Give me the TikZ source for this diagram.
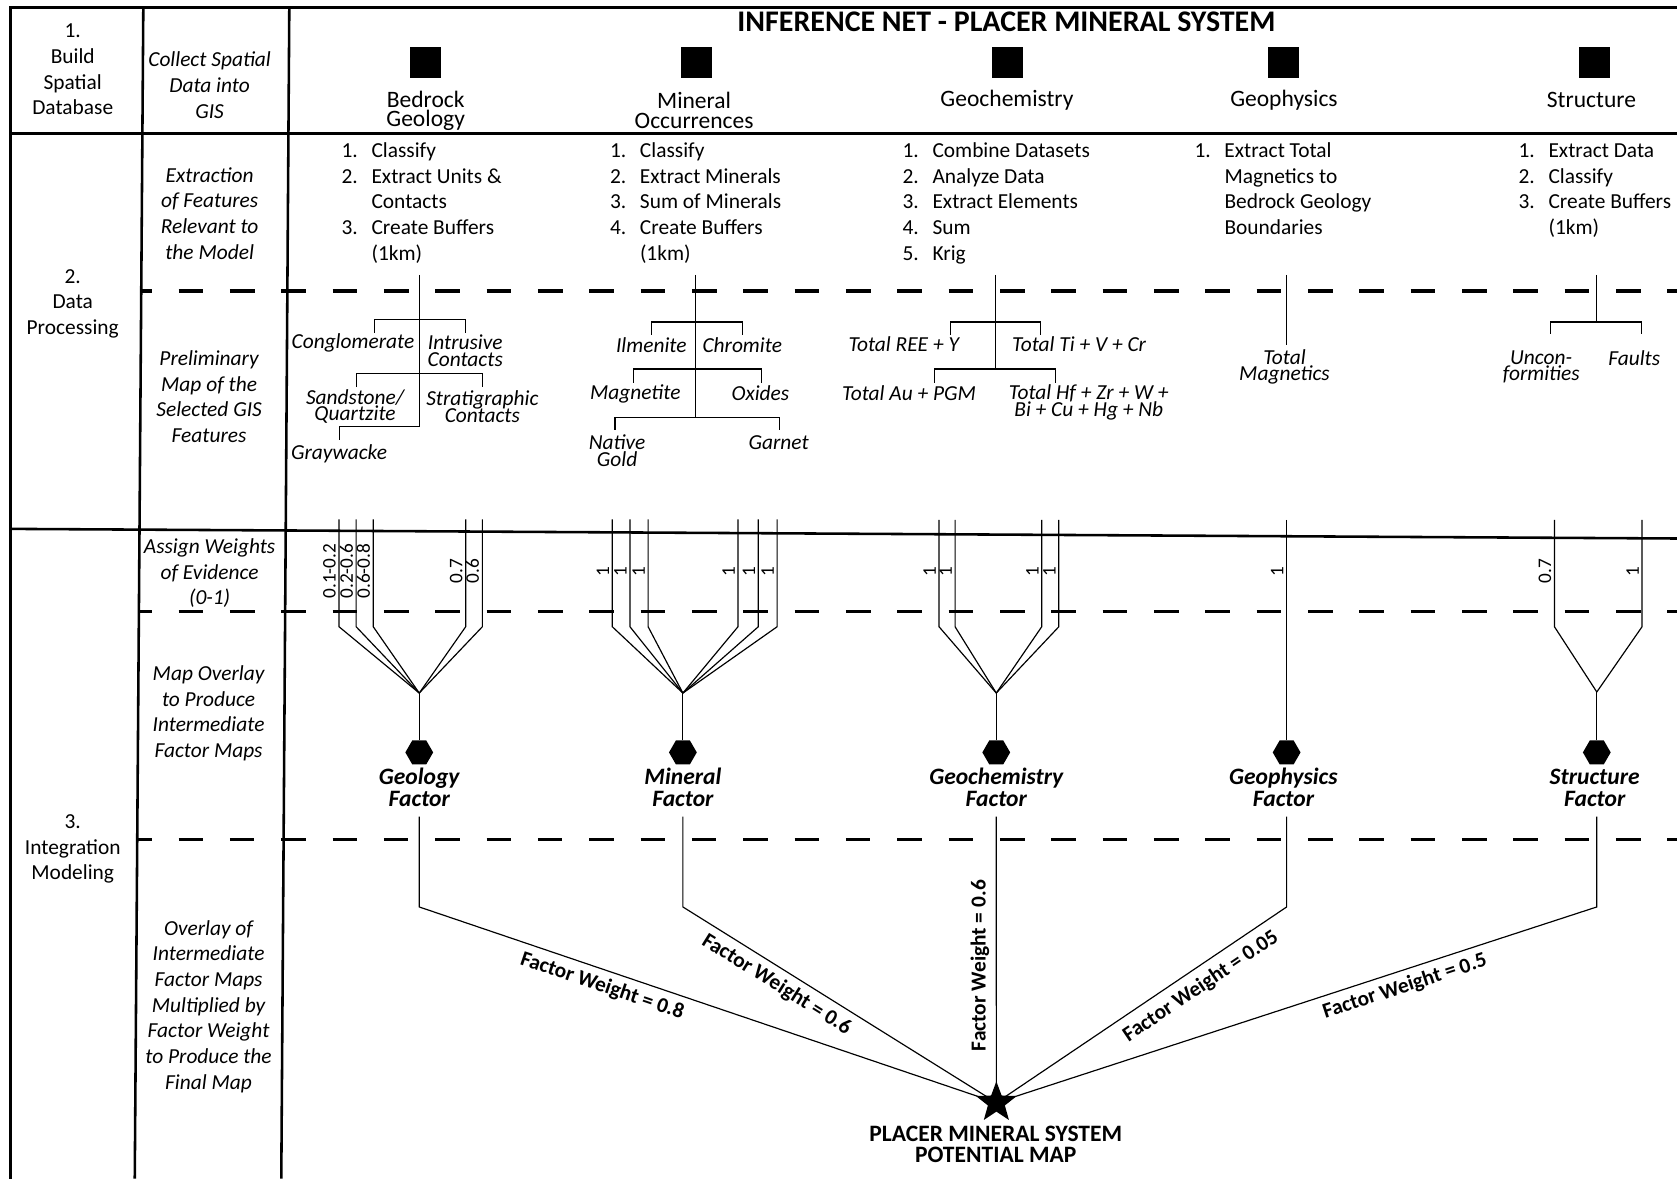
\documentclass[tikz,border=0pt]{standalone}
\usepackage{fontspec}
\setmainfont{Carlito}
\usetikzlibrary{shapes.geometric,backgrounds}

\newcommand\tightlines{\lineskiplimit=-20pt\relax}
\newcommand\steplist[1]{\begin{tabular}{@{}p{14pt}@{}l@{}}#1\end{tabular}}

\tikzset{
  frame/.style={line width=1.2pt},
  sepline/.style={line width=1.5pt, dash pattern=on 11.5pt off 12.5pt},
  thin/.style={line width=0.55pt},
  plain/.style={inner sep=0pt, align=center, font=\fontsize{10}{12}\selectfont\tightlines},
  note/.style={inner sep=0pt, align=center, font=\itshape\fontsize{10}{12}\selectfont\tightlines},
  headline/.style={inner sep=0pt, font=\bfseries\fontsize{14}{16}\selectfont},
  srcbox/.style={fill=black, minimum size=14.5pt, inner sep=0pt},
  srclabel/.style={inner sep=0pt, align=center, font=\fontsize{11}{9.2}\selectfont\tightlines},
  steps/.style={inner sep=0pt, anchor=west, font=\fontsize{10}{12}\selectfont},
  feat/.style={inner sep=0pt, align=center, font=\itshape\fontsize{10}{7.8}\selectfont\tightlines},
  wt/.style={inner sep=0.8pt, rotate=90, anchor=south, font=\fontsize{9}{9}\selectfont},
  hexa/.style={regular polygon, regular polygon sides=6, fill=black, minimum size=13pt, inner sep=0pt},
  factor/.style={inner xsep=0pt, inner ysep=4.3pt, anchor=south, align=center,
                 font=\bfseries\itshape\fontsize{11}{10.5}\selectfont\tightlines},
  fwtext/.style={inner sep=3pt, font=\bfseries\fontsize{10}{12}\selectfont},
  fweight/.style={fwtext, sloped},
  goal/.style={star, star points=5, star point ratio=2.4, fill=black, minimum size=20pt, inner sep=0pt},
  goaltext/.style={inner sep=0pt, align=center, font=\bfseries\fontsize{11}{10}\selectfont\tightlines},
}

\begin{document}
\begin{tikzpicture}[x=0.5pt, y=-0.5pt]
\useasboundingbox (0,0) rectangle (1568,1102);

% ---- table frame ----
\draw[frame] (10,1102) -- (10,7) -- (1568,7);
\draw[frame] (10,125) -- (1568,125);
\draw[frame] (10,494.5) -- (1568,503.5);
\draw[frame] (134,7) -- (126,1102);
\draw[frame] (270.5,7) -- (263,1102);

% ---- dashed row separators ----
\draw[sepline, dash phase=6.5pt] (132,272) -- (1568,272);
\draw[sepline, dash phase=5.5pt] (130,572) -- (1568,572);
\draw[sepline, dash phase=4.7pt] (128.3,785) -- (1568,785);

% ---- stage and step captions ----
\node[plain] (st1) at (68,65) {1.\\Build\\Spatial\\Database};
\node[note] (st1a) at (196,79.5) {Collect Spatial\\Data into\\GIS};
\node[plain] (st2) at (68,284) {2.\\Data\\Processing};
\node[note] (st2a) at (196,199.5) {Extraction\\of Features\\Relevant to\\the Model};
\node[note] (st2b) at (195.5,371) {Preliminary\\Map of the\\Selected GIS\\Features};
\node[plain] (st3) at (68,794) {3.\\Integration\\Modeling};
\node[note] (st3a) at (196,536) {Assign Weights\\of Evidence\\(0-1)};
\node[note] (st3b) at (195,667) {Map Overlay\\to Produce\\Intermediate\\Factor Maps};
\node[note] (st3c) at (195,941) {Overlay of\\Intermediate\\Factor Maps\\Multiplied by\\Factor Weight\\to Produce the\\Final Map};

% ---- header: data sources ----
\node[headline] (ttl) at (941,20) {INFERENCE NET - PLACER MINERAL SYSTEM};
\node[srcbox] (bedSq) at (398,58.5) {};
\node[srcbox] (minSq) at (651,58.5) {};
\node[srcbox] (gchSq) at (942,58.5) {};
\node[srcbox] (gphSq) at (1200,58.5) {};
\node[srcbox] (strSq) at (1491,58.5) {};
\node[srclabel] (bedH) at (398,103.5) {Bedrock\\Geology};
\node[srclabel] (minH) at (649,103.5) {Mineral\\Occurrences};
\node[srclabel] (gchH) at (941.5,93.5) {Geochemistry};
\node[srclabel] (gphH) at (1200.5,93.5) {Geophysics};
\node[srclabel] (strH) at (1488,93.5) {Structure};

% ---- processing steps ----
\node[steps] (bedL) at (319,190.5) {\steplist{1.&Classify\\2.&Extract Units \&\\&Contacts\\3.&Create Buffers\\&(1km)}};
\node[steps] (minL) at (570,190.5) {\steplist{1.&Classify\\2.&Extract Minerals\\3.&Sum of Minerals\\4.&Create Buffers\\&(1km)}};
\node[steps] (gchL) at (843.5,190.5) {\steplist{1.&Combine Datasets\\2.&Analyze Data\\3.&Extract Elements\\4.&Sum\\5.&Krig}};
\node[steps] (gphL) at (1116.5,178.5) {\steplist{1.&Extract Total\\&Magnetics to\\&Bedrock Geology\\&Boundaries}};
\node[steps] (strL) at (1419.5,178.5) {\steplist{1.&Extract Data\\2.&Classify\\3.&Create Buffers\\&(1km)}};

% ---- preliminary feature trees ----
% bedrock geology
\coordinate (bedT) at (392,257);
\coordinate (bedB) at (392,399);
\draw[thin] (bedT) -- (bedB) -- (317.5,399) -- (317.5,411);
\draw[thin] (350,311) -- (350,299) -- (435,299) -- (435,311);
\draw[thin] (333,362) -- (333,349) -- (451,349) -- (451,362);
\node[feat] (fCong) at (330,321) {Conglomerate};
\node[feat] (fIntr) at (435,328) {Intrusive\\Contacts};
\node[feat] (fSand) at (332,380) {Sandstone/\\Quartzite};
\node[feat] (fStra) at (451,380) {Stratigraphic\\Contacts};
\node[feat] (fGray) at (317,424) {Graywacke};
% mineral occurrences
\coordinate (minT) at (650,257);
\coordinate (minB) at (650,390);
\draw[thin] (minT) -- (minB);
\draw[thin] (609,313) -- (609,301) -- (694,301) -- (694,313);
\draw[thin] (592,358) -- (592,345) -- (712,345) -- (712,358);
\draw[thin] (575,402) -- (575,390) -- (728.7,390) -- (728.7,402);
\node[feat] (fIlm) at (609,322.6) {Ilmenite};
\node[feat] (fChr) at (694,322.6) {Chromite};
\node[feat] (fMag) at (594,368) {Magnetite};
\node[feat] (fOxi) at (711,368) {Oxides};
\node[feat] (fGold) at (577,421.5) {Native\\Gold};
\node[feat] (fGar) at (728,414) {Garnet};
% geochemistry
\coordinate (gchT) at (931,257);
\coordinate (gchB) at (931,344);
\draw[thin] (gchT) -- (gchB);
\draw[thin] (889,313) -- (889,301) -- (973,301) -- (973,313);
\draw[thin] (874,358) -- (874,345) -- (987,345) -- (987,358);
\node[feat] (fRee) at (845,321.6) {Total REE + Y};
\node[feat] (fTi) at (1009,321.6) {Total Ti + V + Cr};
\node[feat] (fAu) at (850,368) {Total Au + PGM};
\node[feat] (fHf) at (1018,376) {Total Hf + Zr + W +\\Bi + Cu + Hg + Nb};
% geophysics
\coordinate (gphT) at (1203,257);
\coordinate (gphB) at (1203,322.6);
\draw[thin] (gphT) -- (gphB);
\node[feat] (fTmag) at (1201,343) {Total\\Magnetics};
% structure
\coordinate (strT) at (1493,257);
\coordinate (strB) at (1493,301);
\draw[thin] (strT) -- (strB);
\draw[thin] (1450,312) -- (1450,301) -- (1535,301) -- (1535,312);
\node[feat] (fUnc) at (1441,343) {Uncon-\\formities};
\node[feat] (fFlt) at (1528,335) {Faults};

% ---- weights of evidence and overlay to factor maps ----
\coordinate (bedC) at (392,648);
\coordinate (minC) at (638.5,648);
\coordinate (gchC) at (931.5,648);
\coordinate (gphC) at (1203,486);
\coordinate (strC) at (1493,647);

\foreach \x/\w [count=\i] in {317/0.1-0.2, 333/0.2-0.6, 349/0.6-0.8, 435.4/0.7, 451/0.6}{
  \draw[thin] (\x,485.5) -- (\x,586) -- (bedC);
  \node[wt] (wb\i) at (\x-1,534) {\w};
}
\foreach \x [count=\i] in {572.5,589,606,690,709,726.6}{
  \draw[thin] (\x,485.5) -- (\x,586) -- (minC);
  \node[wt] (wm\i) at (\x-1,534) {1};
}
\foreach \x [count=\i] in {878,893,974,990}{
  \draw[thin] (\x,486) -- (\x,586) -- (gchC);
  \node[wt] (wg\i) at (\x-1,534) {1};
}
\node[wt] (wp1) at (1202,534) {1};
\foreach \x/\w [count=\i] in {1453.4/0.7, 1535.3/1}{
  \draw[thin] (\x,486) -- (\x,586) -- (strC);
  \node[wt] (ws\i) at (\x-1,534) {\w};
}

\node[hexa] (bedX) at (392,703.5) {};
\node[hexa] (minX) at (638.5,703.5) {};
\node[hexa] (gchX) at (931.5,703.5) {};
\node[hexa] (gphX) at (1203,703.5) {};
\node[hexa] (strX) at (1493,703.5) {};
\draw[thin] (bedC) -- (bedX);
\draw[thin] (minC) -- (minX);
\draw[thin] (gchC) -- (gchX);
\draw[thin] (gphC) -- (gphX);
\draw[thin] (strC) -- (strX);

\node[factor] (bedF) at (392,763.6) {Geology\\Factor};
\node[factor] (minF) at (638.5,763.6) {Mineral\\Factor};
\node[factor] (gchF) at (931.5,763.6) {Geochemistry\\Factor};
\node[factor] (gphF) at (1200,763.6) {Geophysics\\Factor};
\node[factor] (strF) at (1491,763.6) {Structure\\Factor};

% ---- weighted overlay to the final map ----
\node[goal] (goal) at (931.6,1031) {};
\node[goaltext] (goalT) at (931,1070) {PLACER MINERAL SYSTEM\\POTENTIAL MAP};

\begin{pgfonlayer}{background}
\draw[thin] (bedF.south) -- (392,848) -- node[fweight, below, pos=0.326] {Factor Weight = 0.8} (goal.center);
\draw[thin] (minF.south -| minX) -- (638.5,848) -- node[fweight, below, pos=0.326] {Factor Weight = 0.6} (goal.center);
\draw[thin] (gchF.south) -- node[fwtext, rotate=90, anchor=south, pos=0.521] {Factor Weight = 0.6} (goal.center);
\draw[thin] (gphF.south -| gphX) -- (1203,848) -- node[fweight, below, pos=0.33, inner sep=3.8pt] {Factor Weight = 0.05} (goal.center);
\draw[thin] (strF.south -| strX) -- (1493,848) -- node[fweight, below, pos=0.328] {Factor Weight = 0.5} (goal.center);
\end{pgfonlayer}
\end{tikzpicture}
\end{document}
